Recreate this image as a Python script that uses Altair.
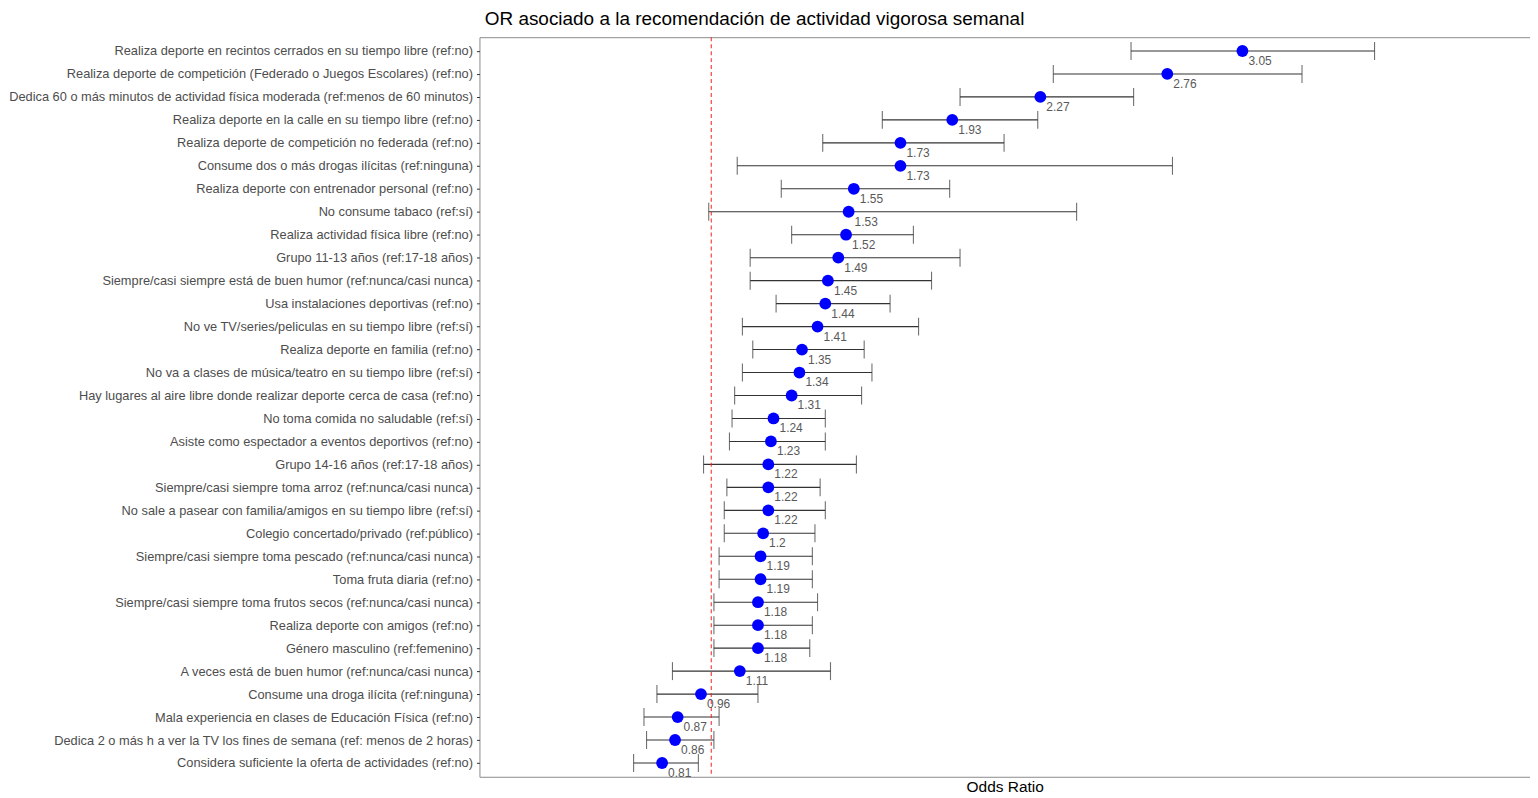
import altair as alt
import pandas as pd

labels = [
    "Realiza deporte en recintos cerrados en su tiempo libre (ref:no)",
    "Realiza deporte de competición (Federado o Juegos Escolares) (ref:no)",
    "Dedica 60 o más minutos de actividad física moderada (ref:menos de 60 minutos)",
    "Realiza deporte en la calle en su tiempo libre (ref:no)",
    "Realiza deporte de competición no federada (ref:no)",
    "Consume dos o más drogas ilícitas (ref:ninguna)",
    "Realiza deporte con entrenador personal (ref:no)",
    "No consume tabaco (ref:sí)",
    "Realiza actividad física libre (ref:no)",
    "Grupo 11-13 años (ref:17-18 años)",
    "Siempre/casi siempre está de buen humor (ref:nunca/casi nunca)",
    "Usa instalaciones deportivas (ref:no)",
    "No ve TV/series/peliculas en su tiempo libre (ref:sí)",
    "Realiza deporte en familia (ref:no)",
    "No va a clases de música/teatro en su tiempo libre (ref:sí)",
    "Hay lugares al aire libre donde realizar deporte cerca de casa (ref:no)",
    "No toma comida no saludable (ref:sí)",
    "Asiste como espectador a eventos deportivos (ref:no)",
    "Grupo 14-16 años (ref:17-18 años)",
    "Siempre/casi siempre toma arroz (ref:nunca/casi nunca)",
    "No sale a pasear con familia/amigos en su tiempo libre (ref:sí)",
    "Colegio concertado/privado (ref:público)",
    "Siempre/casi siempre toma pescado (ref:nunca/casi nunca)",
    "Toma fruta diaria (ref:no)",
    "Siempre/casi siempre toma frutos secos (ref:nunca/casi nunca)",
    "Realiza deporte con amigos (ref:no)",
    "Género masculino (ref:femenino)",
    "A veces está de buen humor (ref:nunca/casi nunca)",
    "Consume una droga ilícita (ref:ninguna)",
    "Mala experiencia en clases de Educación Física (ref:no)",
    "Dedica 2 o más h a ver la TV los fines de semana (ref: menos de 2 horas)",
    "Considera suficiente la oferta de actividades (ref:no)",
]
odds = [3.05, 2.76, 2.27, 1.93, 1.73, 1.73, 1.55, 1.53, 1.52, 1.49, 1.45, 1.44,
        1.41, 1.35, 1.34, 1.31, 1.24, 1.23, 1.22, 1.22, 1.22, 1.2, 1.19, 1.19,
        1.18, 1.18, 1.18, 1.11, 0.96, 0.87, 0.86, 0.81]
lower = [2.62, 2.32, 1.96, 1.66, 1.43, 1.10, 1.27, 0.99, 1.31, 1.15, 1.15, 1.25,
         1.12, 1.16, 1.12, 1.09, 1.08, 1.07, 0.97, 1.06, 1.05, 1.05, 1.03, 1.03,
         1.01, 1.01, 1.01, 0.85, 0.79, 0.74, 0.75, 0.70]
upper = [3.56, 3.28, 2.63, 2.26, 2.13, 2.78, 1.92, 2.41, 1.78, 1.96, 1.85, 1.69,
         1.80, 1.59, 1.62, 1.58, 1.44, 1.44, 1.56, 1.42, 1.44, 1.40, 1.39, 1.39,
         1.41, 1.39, 1.38, 1.46, 1.18, 1.03, 1.01, 0.95]
ref_line = [1]

df = pd.DataFrame({
    "label": labels,
    "odds": odds,
    "lower": lower,
    "upper": upper,
    "txt": [str(v) for v in odds],
})

FONT = "Liberation Sans"
xscale = alt.Scale(domain=[0.105, 4.16], nice=False, zero=False)
yenc = alt.Y("label:N", sort=labels, scale=alt.Scale(type="point", padding=0.6),
             axis=alt.Axis(title=None, labelFontSize=12.85, labelColor="#4d4d4d",
                           labelFont=FONT, tickSize=3, tickColor="#333333",
                           labelPadding=4, domain=False, grid=False,
                           labelLimit=700))
xaxis = alt.Axis(title="Odds Ratio", labels=False, ticks=False, domain=False,
                 grid=False, titleFontSize=15.5, titleFont=FONT,
                 titleFontWeight="normal", titleColor="#000000", titlePadding=3)

base = alt.Chart(df)

bars = base.mark_rule(color="#333333", strokeWidth=1.1).encode(
    x=alt.X("lower:Q", scale=xscale, axis=xaxis), x2="upper:Q", y=yenc)
cap_lo = base.mark_tick(color="#333333", thickness=1.1, size=18).encode(
    x=alt.X("lower:Q", scale=xscale), y=yenc)
cap_hi = base.mark_tick(color="#333333", thickness=1.1, size=18).encode(
    x=alt.X("upper:Q", scale=xscale), y=yenc)
vline = alt.Chart(pd.DataFrame({"ref": ref_line})).mark_rule(
    color="#ff1a1a", strokeDash=[4, 3], strokeWidth=1.3, opacity=0.75).encode(
    x=alt.X("ref:Q", scale=xscale))
pts = base.mark_circle(color="#0000ff", opacity=1, size=140).encode(
    x=alt.X("odds:Q", scale=xscale), y=yenc)
txt = base.mark_text(align="left", baseline="middle", dx=6, dy=10,
                     fontSize=12, color="#595959", font=FONT).encode(
    x=alt.X("odds:Q", scale=xscale), y=yenc, text="txt:N")

chart = alt.layer(bars, cap_lo, cap_hi, vline, pts, txt).properties(
    width=1054, height=742, padding=0,
    title=alt.TitleParams("OR asociado a la recomendación de actividad vigorosa semanal",
                          fontSize=19, font=FONT, fontWeight="normal",
                          color="#000000", anchor="middle", frame="group",
                          offset=8, dx=-251),
).configure_view(stroke="#8c8c8c", strokeWidth=1)

chart.save("out.html", embed_options={"renderer": "svg", "actions": False})
